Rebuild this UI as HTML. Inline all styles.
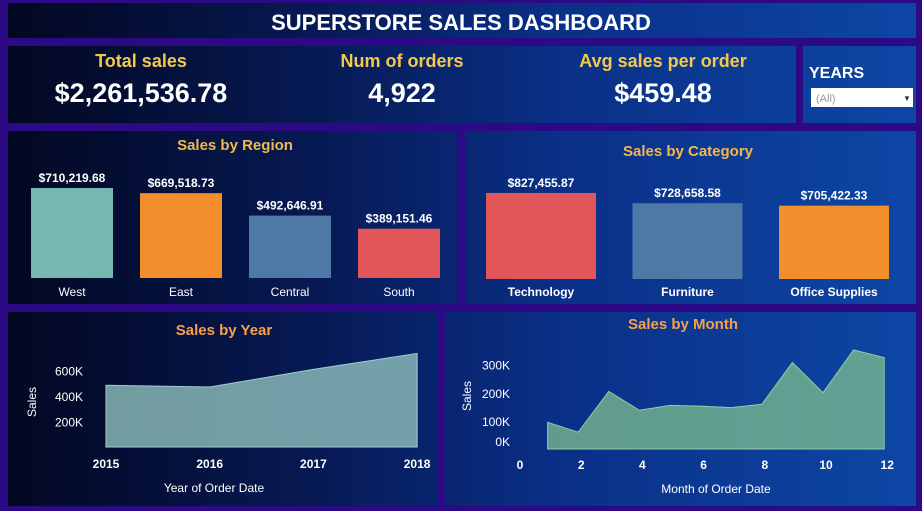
<!DOCTYPE html>
<html><head><meta charset="utf-8">
<style>
html,body{margin:0;padding:0}
body{width:922px;height:511px;background:#2c0a86;position:relative;overflow:hidden;font-family:"Liberation Sans",sans-serif}
.p{position:absolute;background:linear-gradient(90deg,#030720 0%,#071a55 35%,#0a2f86 60%,#0d47a6 100%);background-attachment:fixed}
svg{position:absolute;left:0;top:0}
text{font-family:"Liberation Sans",sans-serif}
</style></head><body>
<div class="p" style="left:8px;top:3px;width:908px;height:35px"></div>
<div class="p" style="left:8px;top:46px;width:788px;height:77px"></div>
<div class="p" style="left:803px;top:46px;width:113px;height:77px"></div>
<div class="p" style="left:8px;top:131px;width:449px;height:173px"></div>
<div class="p" style="left:465px;top:131px;width:451px;height:173px"></div>
<div class="p" style="left:8px;top:312px;width:430px;height:194px"></div>
<div class="p" style="left:446px;top:312px;width:470px;height:194px"></div>
<svg id="s" width="922" height="511">
<text x="461" y="30" text-anchor="middle" fill="#fff" font-size="22" font-weight="bold">SUPERSTORE SALES DASHBOARD</text>
<g font-weight="bold" text-anchor="middle">
<text x="141" y="67" fill="#f2c94c" font-size="18">Total sales</text>
<text x="141" y="102" fill="#fff" font-size="27">$2,261,536.78</text>
<text x="402" y="67" fill="#f2c94c" font-size="18">Num of orders</text>
<text x="402" y="102" fill="#fff" font-size="27">4,922</text>
<text x="663" y="67" fill="#f2c94c" font-size="18">Avg sales per order</text>
<text x="663" y="102" fill="#fff" font-size="27">$459.48</text>
</g>
<text x="809" y="78" fill="#fff" font-size="16" font-weight="bold">YEARS</text>
<g>
<rect x="811" y="88" width="102" height="19" fill="#fff"/>
<text x="816" y="102" fill="#999" font-size="11">(All)</text>
<text x="903" y="101" fill="#333" font-size="8">▼</text>
</g>
<text x="235" y="150" text-anchor="middle" fill="#f2b84c" font-size="15" font-weight="bold">Sales by Region</text>
<text x="688" y="156" text-anchor="middle" fill="#f2b84c" font-size="15" font-weight="bold">Sales by Category</text>
<text x="224" y="335" text-anchor="middle" fill="#f5a04a" font-size="15" font-weight="bold">Sales by Year</text>
<text x="683" y="329" text-anchor="middle" fill="#f5a04a" font-size="15" font-weight="bold">Sales by Month</text>
<text x="214" y="492" text-anchor="middle" fill="#fff" font-size="12">Year of Order Date</text>
<text transform="translate(36,402) rotate(-90)" text-anchor="middle" fill="#fff" font-size="12">Sales</text>
<text x="716" y="493" text-anchor="middle" fill="#fff" font-size="12">Month of Order Date</text>
<text transform="translate(471,396) rotate(-90)" text-anchor="middle" fill="#fff" font-size="12">Sales</text>
</svg>
<script>
const regions=["West","East","Central","South"];
const regionSales=[710219.68,669518.73,492646.91,389151.46];
const categories=["Technology","Furniture","Office Supplies"];
const categorySales=[827455.87,728658.58,705422.33];
const years=[2015,2016,2017,2018];
const yearSales=[484247,470533,608474,733947];
const yearTicks=[200000,400000,600000];
const yearTickLabels=["200K","400K","600K"];
const months=[1,2,3,4,5,6,7,8,9,10,11,12];
const monthSales=[94925,59751,205005,137762,155028,152719,147238,159044,307650,200323,352461,325294];
const monthXTicks=[0,2,4,6,8,10,12];
const monthYTicks=[0,100000,200000,300000];
const monthYTickLabels=["0K","100K","200K","300K"];
const regionColors=["#76b7b2","#f28e2b","#4e79a7","#e15759"];
const categoryColors=["#e15759","#4e79a7","#f28e2b"];
const S=document.getElementById('s'),NS="http://www.w3.org/2000/svg";
function mk(t,a,txt){const e=document.createElementNS(NS,t);for(const k in a)e.setAttribute(k,a[k]);if(txt!=null)e.textContent=txt;S.appendChild(e);return e;}
function fmt(v){return "$"+v.toLocaleString("en-US",{minimumFractionDigits:2,maximumFractionDigits:2});}
// region
const rY=v=>278-v*0.0001267, rX=i=>31+i*109;
regions.forEach((r,i)=>{
 const b=mk('rect',{x:rX(i),y:rY(regionSales[i]),width:82,height:278-rY(regionSales[i]),fill:regionColors[i]});
 
 
 const l=mk('text',{x:rX(i)+41,y:rY(regionSales[i])-6,'text-anchor':'middle',fill:'#fff','font-size':12,'font-weight':'bold'},fmt(regionSales[i]));
 
 
 const c=mk('text',{x:rX(i)+41,y:296,'text-anchor':'middle',fill:'#fff','font-size':12},r);
 
 
});
// category
const cY=v=>279-v*0.000104, cX=i=>486+i*146.5;
categories.forEach((r,i)=>{
 const b=mk('rect',{x:cX(i),y:cY(categorySales[i]),width:110,height:279-cY(categorySales[i]),fill:categoryColors[i]});
 
 
 const l=mk('text',{x:cX(i)+55,y:cY(categorySales[i])-6,'text-anchor':'middle',fill:'#fff','font-size':12,'font-weight':'bold'},fmt(categorySales[i]));
 
 
 const c=mk('text',{x:cX(i)+55,y:296,'text-anchor':'middle',fill:'#fff','font-size':12,'font-weight':'bold'},r);
 
 
});
// year area
const yX=y=>106+(y-2015)*103.7, yY=v=>447-v*0.0001275;
let d="M"+yX(years[0])+","+yY(0);
years.forEach((y,i)=>d+=" L"+yX(y)+","+yY(yearSales[i]));
d+=" L"+yX(years[years.length-1])+","+yY(0)+" Z";
const ya=mk('path',{d:d,fill:'#8fc1bd','fill-opacity':0.8,stroke:'#9fd0cb','stroke-width':1});


years.forEach(y=>{const t=mk('text',{x:yX(y),y:468,'text-anchor':'middle',fill:'#fff','font-size':12,'font-weight':'bold'},String(y));
 
 });
yearTicks.forEach((v,i)=>{const t=mk('text',{x:83,y:yY(v)+5,'text-anchor':'end',fill:'#fff','font-size':12},yearTickLabels[i]);
 
 });
// month area
const mX=m=>517+m*30.6, mY=v=>449-v*0.000281;
let d2="M"+mX(months[0])+","+mY(0);
months.forEach((m,i)=>d2+=" L"+mX(m)+","+mY(monthSales[i]));
d2+=" L"+mX(months[months.length-1])+","+mY(0)+" Z";
const ma=mk('path',{d:d2,fill:'#7fc08f','fill-opacity':0.75,stroke:'#8fd09f','stroke-width':1});


monthXTicks.forEach(m=>{const t=mk('text',{x:mX(m)+3,y:469,'text-anchor':'middle',fill:'#fff','font-size':12,'font-weight':'bold'},String(m));
 
 });
monthYTicks.forEach((v,i)=>{const t=mk('text',{x:510,y:Math.min(mY(v),441)+5,'text-anchor':'end',fill:'#fff','font-size':12},monthYTickLabels[i]);
 
 });
</script>
</body></html>
